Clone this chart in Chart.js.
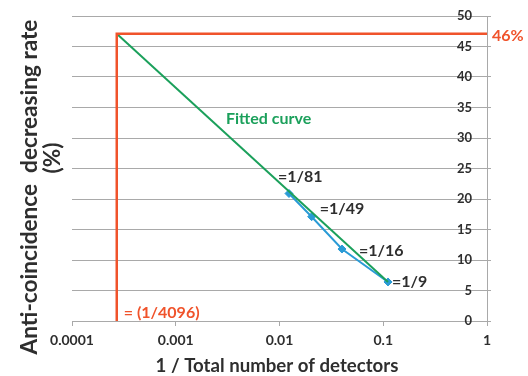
<!DOCTYPE html>
<html>
<head>
<meta charset="utf-8">
<script src="https://cdn.jsdelivr.net/npm/chart.js@4.4.1/dist/chart.umd.min.js"></script>
<style>
  html, body { margin: 0; padding: 0; background: #ffffff; }
  #wrap { width: 528px; height: 376px; position: relative; }
</style>
</head>
<body>
<div id="wrap"><canvas id="c" width="528" height="376"></canvas></div>
<script>
// ---- data ----
const detectorFractions = [1/81, 1/49, 0.04, 1/9];
const decreasingRates   = [20.9, 17.1, 11.8, 6.4];
const pointLabels       = ['=1/81', '=1/49', '=1/16', '=1/9'];

const fittedX = [0.00027, 1/9];
const fittedY = [47.1, 6.4];

const limitX = 0.00027;      // extrapolated point (labelled 1/4096)
const limitY = 47.1;         // labelled 46%
const limitXLabel = '= (1/4096)';
const limitYLabel = '46%';

const xTickValues = [0.0001, 0.001, 0.01, 0.1, 1];
const xTickLabels = ['0.0001', '0.001', '0.01', '0.1', '1'];
const yTickStep = 5;
const yMin = 0, yMax = 50;

const xTitle = '1 / Total number of detectors';
const yTitleLines = ['Anti-coincidence  decreasing rate', '(%)'];
const fitLabel = 'Fitted curve';

// ---- styles ----
const ORANGE = '#F0532B';
const GREEN = '#1BA05B';
const BLUE = '#2A9BD6';
const GRID = '#A9A9A9';
const TEXT = '#2E2E2E';
const FONT = "Lato, 'Open Sans', sans-serif";

const limitData = [
  {x: limitX, y: yMin},
  {x: limitX, y: limitY},
  {x: xTickValues[xTickValues.length - 1], y: limitY}
];
const fitData = fittedX.map((x, i) => ({x, y: fittedY[i]}));
const measData = detectorFractions.map((x, i) => ({x, y: decreasingRates[i]}));

// pixel offsets of point labels relative to their points (left edge, vertical centre)
const labelOffsets = [[-11, -17], [8, -8], [17, 2], [4, 0]];

function fitFont(ctx, text, targetWidth, baseSize) {
  ctx.font = 'bold ' + baseSize + 'px ' + FONT;
  const w = ctx.measureText(text).width;
  return baseSize * targetWidth / w;
}

const textPlugin = {
  id: 'texts',
  afterDatasetsDraw(chart) {
    const ctx = chart.ctx;
    const xs = chart.scales.x, ys = chart.scales.y;
    ctx.save();
    ctx.textBaseline = 'middle';

    // point labels
    ctx.fillStyle = TEXT;
    ctx.font = 'bold 16px ' + FONT;
    ctx.textAlign = 'left';
    measData.forEach((p, i) => {
      const px = xs.getPixelForValue(p.x), py = ys.getPixelForValue(p.y);
      ctx.fillText(pointLabels[i], px + labelOffsets[i][0], py + labelOffsets[i][1]);
    });

    // fitted curve label
    ctx.fillStyle = GREEN;
    ctx.fillText(fitLabel, 226, 119);

    // limit labels
    ctx.fillStyle = ORANGE;
    ctx.fillText(limitXLabel, xs.getPixelForValue(limitX) + 7, 313);
    ctx.fillText(limitYLabel, chart.chartArea.right + 5, ys.getPixelForValue(limitY) + 2);
    ctx.restore();
  },
  afterDraw(chart) {
    const ctx = chart.ctx;
    ctx.save();
    ctx.fillStyle = TEXT;
    ctx.textAlign = 'center';
    ctx.textBaseline = 'middle';
    // x title
    let s = fitFont(ctx, xTitle, 243, 17);
    ctx.font = 'bold ' + s.toFixed(2) + 'px ' + FONT;
    ctx.fillText(xTitle, 277, 366);
    // y title
    s = fitFont(ctx, yTitleLines[0], 335, 20);
    ctx.font = 'bold ' + s.toFixed(2) + 'px ' + FONT;
    ctx.save();
    ctx.translate(30, 187);
    ctx.rotate(-Math.PI / 2);
    ctx.fillText(yTitleLines[0], 0, 0);
    ctx.restore();
    ctx.save();
    ctx.translate(53, 158);
    ctx.rotate(-Math.PI / 2);
    ctx.fillText(yTitleLines[1], 0, 0);
    ctx.restore();
    ctx.restore();
  }
};

new Chart(document.getElementById('c'), {
  type: 'scatter',
  data: {
    datasets: [
      {
        data: measData, showLine: true, borderColor: BLUE, backgroundColor: BLUE,
        borderWidth: 2, pointStyle: 'rectRot', pointRadius: 4, pointBorderWidth: 1, order: 3
      },
      {
        data: fitData, showLine: true, borderColor: GREEN, borderWidth: 2,
        pointRadius: 0, order: 2
      },
      {
        data: limitData, showLine: true, borderColor: ORANGE, borderWidth: 2.5,
        pointRadius: 0, order: 1
      }
    ]
  },
  options: {
    responsive: false,
    animation: false,
    devicePixelRatio: 1,
    layout: { padding: { left: 72, top: 16, right: 0, bottom: 0 } },
    plugins: { legend: { display: false }, tooltip: { enabled: false } },
    scales: {
      x: {
        type: 'logarithmic',
        min: xTickValues[0],
        max: xTickValues[xTickValues.length - 1],
        afterBuildTicks(scale) { scale.ticks = xTickValues.map(v => ({value: v})); },
        afterFit(scale) { scale.height = 55; },
        ticks: {
          autoSkip: false, maxRotation: 0,
          callback: (v) => { const i = xTickValues.indexOf(v); return i >= 0 ? xTickLabels[i] : ''; },
          color: TEXT, font: { family: FONT, size: 14, weight: 'bold' }, padding: 6
        },
        grid: { drawOnChartArea: false, drawTicks: true, tickLength: 5, color: GRID },
        border: { display: true, color: GRID, width: 1 }
      },
      y: {
        position: 'right',
        min: yMin, max: yMax,
        afterFit(scale) { scale.width = 41; },
        ticks: {
          stepSize: yTickStep, mirror: true, padding: -15,
          color: TEXT, font: { family: FONT, size: 13, weight: 'bold' }
        },
        grid: { color: GRID, drawTicks: true, tickLength: 4 },
        border: { display: true, color: GRID, width: 1 }
      }
    }
  },
  plugins: [textPlugin]
});
</script>
</body>
</html>
